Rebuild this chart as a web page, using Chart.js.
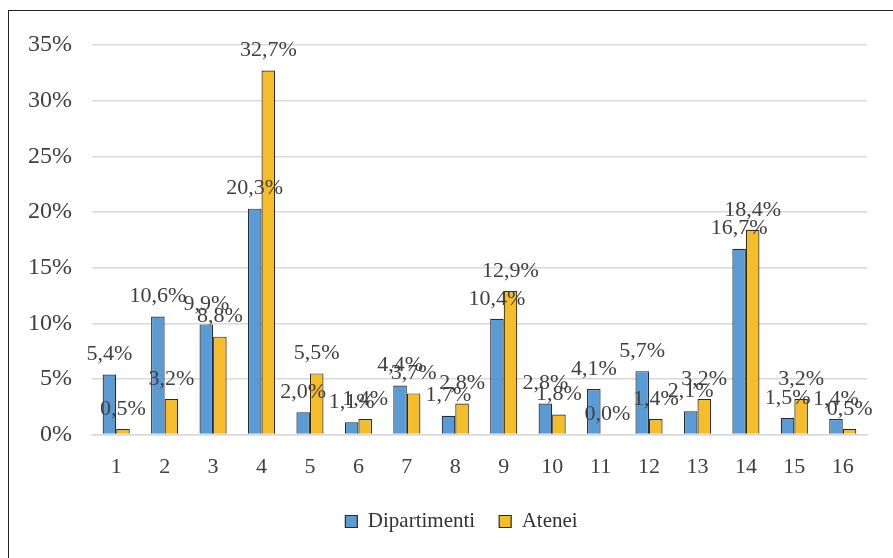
<!DOCTYPE html>
<html>
<head>
<meta charset="utf-8">
<script src="https://cdn.jsdelivr.net/npm/chart.js@4.4.1/dist/chart.umd.min.js"></script>
<style>
  html, body { margin: 0; padding: 0; background: #fff; overflow: hidden; }
  #wrap { position: absolute; left: 0; top: 0; width: 893px; height: 558px; }
  #frame { position: absolute; left: 8px; top: 10px; width: 900px; height: 560px; border: 1.5px solid #222; box-sizing: border-box; }
</style>
</head>
<body>
<div id="wrap">
  <div id="frame"></div>
  <canvas id="myChart" width="893" height="558"></canvas>
</div>
<script>
var categories = ['1', '2', '3', '4', '5', '6', '7', '8', '9', '10', '11', '12', '13', '14', '15', '16'];
var dipartimenti = [5.4, 10.6, 9.9, 20.3, 2.0, 1.1, 4.4, 1.7, 10.4, 2.8, 4.1, 5.7, 2.1, 16.7, 1.5, 1.4];
var atenei = [0.5, 3.2, 8.8, 32.7, 5.5, 1.4, 3.7, 2.8, 12.9, 1.8, 0.0, 1.4, 3.2, 18.4, 3.2, 0.5];
var yTicks = [0, 5, 10, 15, 20, 25, 30, 35];

var serif = "'Liberation Serif', 'Times New Roman', serif";

function fmt(v) {
    return v.toFixed(1).replace('.', ',') + '%';
}

// etichette sopra le barre
var valueLabels = {
    id: 'valueLabels',
    afterDatasetsDraw: function (chart) {
        var ctx = chart.ctx;
        ctx.save();
        ctx.font = '22px ' + serif;
        ctx.fillStyle = '#404040';
        ctx.textAlign = 'center';
        ctx.textBaseline = 'bottom';
        chart.data.datasets.forEach(function (ds, i) {
            var meta = chart.getDatasetMeta(i);
            meta.data.forEach(function (bar, j) {
                ctx.fillText(fmt(ds.data[j]), bar.x, bar.y - 9);
            });
        });
        ctx.restore();
    }
};

// sposta la legenda come nell'originale
var legendShift = {
    id: 'legendShift',
    afterLayout: function (chart) {
        var lg = chart.legend;
        lg.left += 24;
        lg.right += 24;
        lg.top -= 12;
        lg.bottom -= 12;
    }
};

var ctx = document.getElementById('myChart').getContext('2d');
var myChart = new Chart(ctx, {
    type: 'bar',
    data: {
        labels: categories,
        datasets: [{
            label: 'Dipartimenti',
            data: dipartimenti,
            backgroundColor: '#5B9BD5',
            borderColor: '#2b2b2b',
            borderWidth: 1.2,
            categoryPercentage: 0.56,
            barPercentage: 1.0
        }, {
            label: 'Atenei',
            data: atenei,
            backgroundColor: '#F5BD2A',
            borderColor: '#2b2b2b',
            borderWidth: 1.2,
            categoryPercentage: 0.56,
            barPercentage: 1.0
        }]
    },
    options: {
        responsive: false,
        animation: false,
        layout: {
            padding: { left: 8, right: 26, top: 45, bottom: 4 }
        },
        scales: {
            x: {
                grid: { display: false, drawTicks: false },
                border: { display: true, color: '#d9d9d9', width: 1.5 },
                ticks: {
                    color: '#404040',
                    font: { family: serif, size: 22 },
                    padding: 19
                }
            },
            y: {
                min: 0,
                max: 35,
                afterBuildTicks: function (axis) {
                    axis.ticks = yTicks.map(function (v) { return { value: v }; });
                },
                grid: { color: '#d9d9d9', lineWidth: 1.5, drawTicks: false },
                border: { display: false },
                ticks: {
                    color: '#404040',
                    font: { family: serif, size: 24 },
                    padding: 20,
                    callback: function (v) { return v + '%'; }
                }
            }
        },
        plugins: {
            legend: {
                position: 'bottom',
                labels: {
                    color: '#333333',
                    font: { family: serif, size: 21 },
                    boxWidth: 12,
                    boxHeight: 12,
                    padding: 24,
                    useBorderRadius: false
                }
            },
            tooltip: { enabled: false }
        }
    },
    plugins: [valueLabels, legendShift]
});
</script>
</body>
</html>
